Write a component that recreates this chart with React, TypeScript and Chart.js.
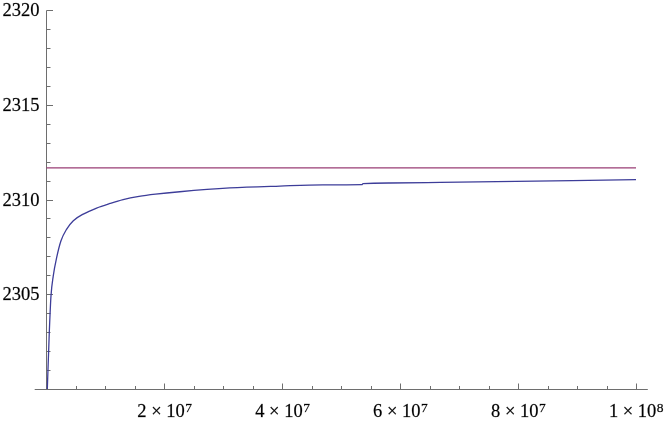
import React, { useEffect, useRef } from "react";
import { Chart, registerables } from "chart.js";

Chart.register(...registerables);

// Blue curve
const curveX = [
  0.14e6, 0.47e6, 0.76e6, 1.15e6, 1.73e6, 2.46e6, 3.43e6, 4.55e6, 6.24e6, 8.5e6,
  10.8e6, 13.0e6, 15.7e6, 18.5e6, 22.6e6, 31.1e6, 39.6e6, 46.9e6, 53.5e6, 53.7e6,
  58.3e6, 66.8e6, 100e6,
];
const curveY = [
  2300.0, 2302.94, 2304.9, 2305.97, 2306.94, 2307.82, 2308.44, 2308.88, 2309.23, 2309.55,
  2309.79, 2309.99, 2310.16, 2310.28, 2310.41, 2310.61, 2310.71, 2310.77, 2310.78, 2310.84,
  2310.87, 2310.9, 2311.05,
];

// Red horizontal line
const limitX = [0, 1e8];
const limitY = [2311.67, 2311.67];

// Axis ranges
const xRange = [-2e6, 1.02e8];
const yRange = [2300, 2320];

// Ticks
const yMajorTicks = [2305, 2310, 2315, 2320];
const yMinorTicks = [2301, 2302, 2303, 2304, 2306, 2307, 2308, 2309, 2311, 2312, 2313, 2314, 2316, 2317, 2318, 2319];
const xMajorTicks = [2e7, 4e7, 6e7, 8e7, 1e8];
const xMajorMantissa = ["2", "4", "6", "8", "1"];
const xMajorExponent = ["7", "7", "7", "7", "8"];
const xMinorTicks = [
  5e6, 10e6, 15e6, 25e6, 30e6, 35e6, 45e6, 50e6, 55e6, 65e6, 70e6, 75e6, 85e6, 90e6, 95e6,
];

const FONT = "18.5px \"Liberation Serif\"";
const SUP_FONT = "13.5px \"Liberation Serif\"";
const AXIS_COLOR = "#6e6e6e";

function drawText(ctx: CanvasRenderingContext2D, s: string, x: number, y: number) {
  ctx.fillText(s, x, y);
  ctx.strokeText(s, x, y);
}

const axesPlugin = {
  id: "mmaAxes",
  beforeDatasetsDraw(chart: any) {
    const ctx: CanvasRenderingContext2D = chart.ctx;
    const xs = chart.scales.x;
    const ys = chart.scales.y;
    const area = chart.chartArea;
    const x0 = Math.round(xs.getPixelForValue(0)) + 0.5;
    const y0 = Math.round(ys.getPixelForValue(yRange[0])) + 0.5;
    const yTop = Math.round(ys.getPixelForValue(yRange[1])) + 0.5;

    ctx.save();
    ctx.strokeStyle = AXIS_COLOR;
    ctx.lineWidth = 1;
    ctx.beginPath();
    ctx.moveTo(area.left, y0);
    ctx.lineTo(area.right, y0);
    ctx.moveTo(x0, yTop);
    ctx.lineTo(x0, y0);
    xMajorTicks.forEach((v) => {
      const px = Math.round(xs.getPixelForValue(v)) + 0.5;
      ctx.moveTo(px, y0);
      ctx.lineTo(px, y0 - 6);
    });
    xMinorTicks.forEach((v) => {
      const px = Math.round(xs.getPixelForValue(v)) + 0.5;
      ctx.moveTo(px, y0);
      ctx.lineTo(px, y0 - 3.5);
    });
    yMajorTicks.forEach((v) => {
      const py = Math.round(ys.getPixelForValue(v)) + 0.5;
      ctx.moveTo(x0, py);
      ctx.lineTo(x0 + 6.5, py);
    });
    yMinorTicks.forEach((v) => {
      const py = Math.round(ys.getPixelForValue(v)) + 0.5;
      ctx.moveTo(x0, py);
      ctx.lineTo(x0 + 4, py);
    });
    ctx.stroke();

    ctx.fillStyle = "#000";
    ctx.strokeStyle = "rgba(0,0,0,0.55)";
    ctx.lineWidth = 0.35;
    ctx.font = FONT;
    ctx.textBaseline = "alphabetic";
    ctx.textAlign = "right";
    yMajorTicks.forEach((v) => {
      const py = ys.getPixelForValue(v);
      drawText(ctx, String(v), x0 - 7, py + 6.2);
    });

    ctx.textAlign = "left";
    xMajorTicks.forEach((v, i) => {
      const px = xs.getPixelForValue(v);
      const base = xMajorMantissa[i] + " \u00d7 10";
      ctx.font = FONT;
      const wBase = ctx.measureText(base).width;
      ctx.font = SUP_FONT;
      const wSup = ctx.measureText(xMajorExponent[i]).width;
      const total = wBase + wSup;
      const start = px - total / 2;
      const baseY = y0 + 27.7;
      ctx.font = FONT;
      drawText(ctx, base, start, baseY);
      ctx.font = SUP_FONT;
      drawText(ctx, xMajorExponent[i], start + wBase + 0.5, baseY - 5);
    });
    ctx.restore();
  },
};

export default function App() {
  const canvasRef = useRef<HTMLCanvasElement | null>(null);

  useEffect(() => {
    if (!canvasRef.current) return;
    const chart = new Chart(canvasRef.current, {
      type: "scatter",
      data: {
        datasets: [
          {
            data: limitX.map((x, i) => ({ x, y: limitY[i] })),
            showLine: true,
            borderColor: "#993d74",
            borderWidth: 1.3,
            pointRadius: 0,
            fill: false,
          },
          {
            data: curveX.map((x, i) => ({ x, y: curveY[i] })),
            showLine: true,
            borderColor: "#3d3d99",
            borderWidth: 1.3,
            pointRadius: 0,
            fill: false,
            cubicInterpolationMode: "monotone",
          },
        ],
      },
      options: {
        animation: false,
        responsive: false,
        devicePixelRatio: 1,
        layout: { padding: { left: 34.7, right: 16.2, top: 10, bottom: 34 } },
        plugins: { legend: { display: false }, tooltip: { enabled: false } },
        scales: {
          x: { type: "linear", min: xRange[0], max: xRange[1], display: false },
          y: { type: "linear", min: yRange[0], max: yRange[1], display: false },
        },
      },
      plugins: [axesPlugin],
    });
    return () => {
      chart.destroy();
    };
  }, []);

  return (
    <div style={{ position: "absolute", left: 0, top: 0, width: 664, height: 423, background: "#fff" }}>
      <canvas ref={canvasRef} width={664} height={423} />
    </div>
  );
}
